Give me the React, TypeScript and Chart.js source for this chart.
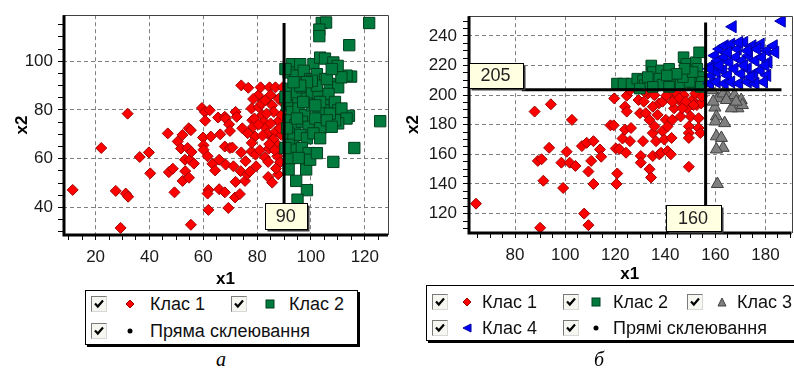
import React, { useEffect, useRef } from 'react';
import { Chart, registerables } from 'chart.js';

Chart.register(...registerables);

type Pt = [number, number];

const FONT = '"Liberation Sans", Arial, Helvetica, sans-serif';

// ---------------- Panel а ----------------
const A_X_RANGE = [7.9, 128.6];
const A_Y_RANGE = [28.7, 118.9];
const A_CLASS1: Pt[] = [
  [11.5, 47.2], [22.1, 64.4], [31.9, 78.5], [27.5, 46.8], [31.2, 45.7], [32.1, 44.4], [29.3, 31.6],
  [36.4, 60.7], [39.8, 62.6], [40.3, 54.0], [46.8, 70.4], [47.2, 54.5], [48.7, 55.9], [49.3, 46.2],
  [50.5, 67.1], [52.3, 69.8], [51.7, 64.2], [53.2, 59.6], [53.3, 54.9], [52.3, 50.9], [54.6, 72.5],
  [55.4, 71.7], [54.2, 64.4], [55.0, 59.6], [54.7, 52.2], [55.6, 62.8], [56.5, 58.0], [55.4, 32.9],
  [59.5, 80.8], [60.6, 79.2], [62.4, 79.9], [60.7, 75.6], [59.9, 68.7], [60.1, 65.5], [60.1, 63.7],
  [61.6, 61.0], [62.8, 69.1], [63.4, 57.9], [64.4, 55.2], [61.9, 47.2], [61.6, 45.7], [61.9, 39.0],
  [65.5, 76.9], [66.3, 70.0], [65.9, 59.6], [65.9, 47.5], [68.0, 77.2], [68.3, 76.5], [69.6, 74.1],
  [69.9, 71.4], [68.0, 65.0], [68.3, 57.6], [69.9, 64.4], [68.0, 46.2], [69.3, 39.8], [70.8, 64.6],
  [71.2, 56.9], [72.0, 79.2], [72.4, 77.2], [72.0, 50.5], [73.9, 54.9], [74.1, 90.1], [74.5, 72.5],
  [74.1, 62.6], [71.8, 44.1], [73.6, 45.5], [75.5, 50.9], [76.3, 53.6], [75.7, 59.0], [77.3, 54.7],
  [76.7, 89.1], [77.9, 80.6], [78.2, 75.8], [78.5, 73.1], [79.2, 69.1], [77.9, 63.0], [79.4, 61.7],
  [79.6, 56.9], [80.4, 86.0], [81.3, 89.3], [80.6, 81.2], [81.6, 82.6], [81.9, 77.9], [82.5, 75.2],
  [83.1, 72.7], [83.8, 70.4], [82.9, 60.6], [84.3, 64.1], [84.1, 58.7], [84.1, 52.5], [85.6, 50.2],
  [84.6, 89.3], [85.0, 86.2], [85.6, 81.9], [86.2, 79.2], [86.8, 89.3], [86.8, 71.1], [87.0, 66.4],
  [87.5, 61.0], [87.8, 53.6], [87.8, 75.4], [88.7, 63.7], [89.0, 69.8], [89.3, 83.3], [89.5, 89.3],
  [89.0, 77.9], [88.0, 84.6], [88.4, 72.5], [79.0, 76.5], [80.5, 74.0], [82.0, 69.5], [83.5, 78.5],
  [85.0, 74.5], [86.0, 68.0], [84.5, 66.0], [81.0, 63.5], [78.0, 66.5], [76.5, 70.5], [86.5, 63.5],
  [88.5, 58.5], [87.0, 56.0], [83.0, 84.0], [78.5, 84.5],
];
const A_CLASS2: Pt[] = [
  [104.0, 115.7], [105.6, 115.9], [103.1, 113.0], [103.1, 110.3], [121.6, 115.7], [114.2, 106.6],
  [125.7, 75.4], [116.1, 64.4], [108.3, 58.7], [98.2, 55.6], [98.5, 47.1], [94.5, 50.9], [95.0, 43.2],
  [114.1, 77.6], [114.9, 93.7], [113.2, 94.1], [92.9, 98.8], [96.0, 98.8], [100.9, 98.8], [103.4, 101.5],
  [105.2, 101.1], [108.3, 99.5], [109.9, 98.1], [91.7, 95.4], [94.2, 94.1], [97.3, 96.1], [99.7, 92.7],
  [102.2, 94.7], [105.2, 92.7], [107.0, 90.7], [110.1, 89.3], [111.3, 93.4], [91.7, 88.7], [92.9, 84.6],
  [94.8, 87.3], [96.6, 89.3], [98.5, 84.6], [100.3, 87.3], [102.8, 86.0], [104.6, 83.3], [106.5, 86.6],
  [108.9, 83.3], [110.1, 79.9], [111.3, 80.6], [113.2, 76.5], [110.1, 74.5], [108.9, 75.8], [91.1, 81.9],
  [92.9, 79.2], [95.4, 80.6], [97.8, 77.9], [100.3, 81.9], [102.8, 79.2], [104.6, 79.9], [107.0, 78.5],
  [91.7, 75.8], [94.2, 73.8], [96.6, 75.2], [99.1, 73.1], [101.6, 76.5], [103.4, 72.5], [91.7, 70.4],
  [93.5, 68.4], [96.0, 69.8], [98.5, 68.4], [100.9, 70.4], [103.4, 68.4], [91.7, 65.7], [94.2, 63.7],
  [96.6, 64.4], [99.1, 62.3], [92.3, 60.3], [95.4, 60.3], [99.7, 59.6], [102.2, 62.3], [91.7, 55.6],
  [90.5, 64.4], [91.1, 72.5], [90.5, 85.3], [90.5, 96.8], [102.2, 90.0], [100.3, 92.0], [98.5, 91.4],
  [96.0, 90.0], [93.5, 91.4], [103.4, 83.3], [101.6, 81.9], [105.9, 75.8], [107.7, 73.1], [97.1, 83.3],
  [94.8, 76.5], [105.9, 92.7], [107.7, 96.8],
];
const A_SPLIT: Pt[] = [[90, 41.5], [90, 115.7]];
const A_TAG_TEXT = ['90'];
const A_TAG_AT: Pt[] = [[90.6, 36.4]];

// ---------------- Panel б ----------------
const B_X_RANGE = [61.2, 190.4];
const B_Y_RANGE = [106.9, 253.3];
const B_CLASS1: Pt[] = [
  [64.4, 126.7], [87.8, 188.9], [94.3, 193.8], [102.7, 183.3], [89.1, 155.6], [90.6, 156.7], [93.6, 164.4],
  [91.3, 142.2], [90.0, 110.4], [98.5, 154.4], [99.2, 137.3], [100.6, 161.8], [101.8, 154.4], [104.1, 152.2],
  [106.7, 165.6], [108.6, 167.8], [109.3, 148.4], [110.4, 155.6], [111.3, 168.9], [111.3, 140.0], [107.6, 120.0],
  [109.3, 112.2], [113.9, 163.3], [114.4, 158.4], [118.1, 179.6], [119.4, 179.6], [119.6, 197.8], [120.2, 164.0],
  [120.8, 147.1], [120.5, 140.0], [121.6, 163.6], [122.9, 170.7], [123.9, 176.7], [124.3, 161.1], [124.6, 199.6],
  [123.9, 192.2], [124.6, 188.9], [125.9, 203.3], [126.3, 177.8], [125.9, 168.9], [129.3, 196.7], [129.9, 187.8],
  [130.2, 158.9], [130.2, 154.4], [131.1, 168.9], [131.4, 195.6], [132.2, 187.8], [133.1, 201.1], [133.7, 183.3],
  [133.7, 150.0], [134.3, 144.4], [135.0, 174.4], [135.7, 178.9], [135.0, 158.9], [136.3, 168.9], [136.9, 186.7],
  [137.4, 194.4], [137.6, 160.0], [138.3, 161.1], [138.9, 195.6], [138.9, 175.6], [139.6, 170.0], [140.2, 183.3],
  [140.9, 178.9], [141.3, 201.1], [140.9, 162.2], [142.2, 160.0], [142.5, 171.1], [142.8, 183.3], [143.5, 191.1],
  [144.1, 197.8], [144.8, 201.1], [146.1, 185.6], [146.8, 194.4], [147.4, 200.0], [148.7, 191.1], [149.4, 178.9],
  [149.4, 174.4], [149.4, 171.1], [149.4, 151.6], [150.1, 185.6], [150.7, 196.7], [152.0, 201.1], [152.6, 193.3],
  [153.3, 184.4], [153.3, 177.8], [154.0, 174.4], [154.3, 194.4], [154.6, 198.9], [145.5, 197.8], [148.1, 195.6],
  [151.3, 193.3], [146.8, 191.1], [142.8, 195.6], [140.4, 199.6], [135.6, 200.0], [131.7, 202.2], [135.0, 192.2],
];
const B_CLASS2: Pt[] = [
  [120.7, 207.8], [123.3, 207.8], [126.5, 207.8], [128.8, 211.1], [131.1, 210.0], [131.8, 206.7], [134.4, 220.0],
  [135.0, 215.6], [136.1, 208.9], [138.3, 216.7], [140.2, 208.9], [141.5, 217.8], [143.5, 211.1], [144.1, 206.7],
  [146.1, 207.8], [147.3, 225.6], [148.4, 221.1], [149.4, 216.7], [150.3, 211.1], [150.9, 206.7], [152.2, 222.2],
  [152.8, 217.8], [153.5, 228.9], [153.8, 212.2], [154.6, 208.9], [154.2, 205.6], [149.7, 208.9], [147.0, 212.2],
  [137.6, 211.1], [138.9, 207.1], [133.0, 212.2], [129.8, 204.4], [135.0, 205.6], [141.5, 205.6], [150.9, 215.6],
  [147.7, 217.8], [144.5, 214.4], [140.6, 213.3],
];
const B_CLASS3: Pt[] = [
  [159.8, 191.6], [161.1, 197.8], [163.1, 201.1], [165.0, 198.9], [167.6, 200.0], [170.3, 196.7], [169.0, 191.1],
  [166.4, 191.1], [170.8, 193.3], [159.1, 195.6], [160.4, 185.6], [160.0, 182.2], [163.7, 181.1], [160.4, 172.2],
  [162.4, 171.1], [163.1, 164.4], [160.4, 163.3], [160.8, 140.0], [158.5, 203.3], [164.4, 196.7], [168.3, 195.6],
];
const B_CLASS4: Pt[] = [
  [166.9, 246.2], [186.5, 250.0], [159.8, 226.7], [161.7, 231.1], [163.7, 233.3], [166.3, 234.4], [168.9, 231.1],
  [171.5, 235.6], [174.8, 233.3], [178.1, 234.4], [180.7, 230.0], [183.3, 233.3], [183.9, 228.9], [158.5, 220.0],
  [161.1, 223.3], [163.7, 225.6], [165.6, 222.2], [168.2, 225.6], [170.8, 223.3], [173.4, 226.7], [176.0, 223.3],
  [178.6, 225.6], [181.2, 222.2], [158.5, 213.3], [160.5, 215.6], [163.1, 216.7], [165.0, 213.3], [167.6, 217.8],
  [170.3, 214.4], [172.9, 217.8], [175.5, 214.4], [178.1, 216.7], [180.7, 213.3], [179.4, 208.9], [157.8, 207.8],
  [160.5, 208.9], [163.7, 207.8], [166.3, 208.9], [169.5, 207.8], [172.9, 208.9], [176.0, 207.8], [157.8, 217.8],
  [165.0, 228.9], [169.5, 235.6], [172.9, 230.0], [176.8, 231.1], [180.0, 220.0], [161.7, 220.0], [171.5, 220.0],
  [174.1, 212.2],
];
const B_SPLIT_V: Pt[] = [[156.1, 125.5], [156.1, 249.0]];
const B_SPLIT_H: Pt[] = [[82.7, 203.6], [186.4, 203.6]];
const B_TAG_TEXT = ['160', '205'];
const B_TAG_AT: Pt[] = [[151.1, 116.9], [72.2, 213.5]];

const TICK_STEP = 5;
const LABEL_STEP = 20;

// ---------------- helpers ----------------
const toXY = (arr: Pt[]) => arr.map(([x, y]) => ({ x, y }));

function overlay(tags: { text: string; at: Pt; w: number; h: number }[]) {
  return {
    id: 'overlay',
    afterDraw(chart: any) {
      const { ctx, chartArea: a, scales } = chart;
      ctx.save();
      ctx.setLineDash([]);
      ctx.strokeStyle = '#404040';
      ctx.lineWidth = 1;
      ctx.beginPath();
      ctx.moveTo(a.left, Math.round(a.top) + 0.5);
      ctx.lineTo(Math.round(a.right) + 0.5, Math.round(a.top) + 0.5);
      ctx.lineTo(Math.round(a.right) + 0.5, a.bottom);
      ctx.stroke();
      ctx.strokeStyle = '#000';
      ctx.lineWidth = 3;
      ctx.beginPath();
      ctx.moveTo(a.left + 1, a.top);
      ctx.lineTo(a.left + 1, a.bottom);
      ctx.lineTo(a.right, a.bottom);
      ctx.stroke();
      for (const t of tags) {
        const cx = scales.x.getPixelForValue(t.at[0]);
        const cy = scales.y.getPixelForValue(t.at[1]);
        const x0 = Math.round(cx - t.w / 2) + 0.5;
        const y0 = Math.round(cy - t.h / 2) + 0.5;
        ctx.fillStyle = '#3a3a3a';
        ctx.fillRect(x0 + 2, y0 + 2, t.w, t.h);
        ctx.fillStyle = '#ffffe1';
        ctx.fillRect(x0, y0, t.w, t.h);
        ctx.strokeStyle = '#000';
        ctx.lineWidth = 1;
        ctx.strokeRect(x0, y0, t.w, t.h);
        ctx.fillStyle = '#222';
        ctx.font = `18px ${FONT}`;
        ctx.textAlign = 'center';
        ctx.textBaseline = 'middle';
        ctx.fillText(t.text, cx, cy + 1);
      }
      ctx.restore();
    },
  };
}

function axis(range: number[], fitSize: number, horizontal: boolean, title: string, titlePad: any, tickPad: number) {
  return {
    type: 'linear',
    min: range[0],
    max: range[1],
    afterFit: (s: any) => {
      if (horizontal) s.height = fitSize;
      else s.width = fitSize;
    },
    border: { display: false, dash: [4, 3] },
    grid: {
      color: (c: any) => (c.tick && c.tick.value % LABEL_STEP === 0 ? '#808080' : 'rgba(0,0,0,0)'),
      lineWidth: 1,
      tickColor: '#000',
      tickLength: 5,
      drawTicks: true,
    },
    ticks: {
      stepSize: TICK_STEP,
      autoSkip: false,
      includeBounds: false,
      maxRotation: 0,
      padding: tickPad,
      color: '#1a1a1a',
      font: { family: FONT, size: 17 },
      callback: (v: any) => (Number(v) % LABEL_STEP === 0 ? String(v) : ''),
    },
    title: {
      display: true,
      text: title,
      color: '#000',
      font: { family: FONT, size: 17, weight: 'bold' },
      padding: titlePad,
    },
  };
}

const pointSet = (data: Pt[], style: string, r: number, bg: string, border: string, order: number, rotation = 0) => ({
  data: toXY(data),
  pointStyle: style,
  pointRadius: r,
  pointRotation: rotation,
  backgroundColor: bg,
  borderColor: border,
  borderWidth: 1,
  showLine: false,
  order,
});

const lineSet = (data: Pt[]) => ({
  data: toXY(data),
  showLine: true,
  borderColor: '#000',
  borderWidth: 3,
  pointRadius: 0,
  order: 0,
});

const RED = ['#ff0000', '#a00000'];
const GREEN = ['#007a3d', '#00401f'];
const GRAY = ['#808080', '#404040'];
const BLUE = ['#0000ff', '#0000a0'];

// ---------------- legend bits ----------------
const CheckBox = ({ x, y }: { x: number; y: number }) => (
  <div
    style={{
      position: 'absolute', left: x, top: y, width: 16, height: 16, boxSizing: 'border-box',
      borderTop: '1px solid #7a7a7a', borderLeft: '1px solid #7a7a7a',
      borderRight: '1px solid #d8d8d8', borderBottom: '1px solid #d8d8d8', background: '#f7f7f2',
    }}
  >
    <svg width="14" height="14" style={{ position: 'absolute', left: 0, top: 0 }}>
      <path d="M3 6.5 L5.8 9.5 L11 3.5" stroke="#000" strokeWidth="2.2" fill="none" />
    </svg>
  </div>
);

const Marker = ({ kind, x, y }: { kind: string; x: number; y: number }) => {
  let shape: any = null;
  if (kind === 'diamond') shape = <polygon points="5,1 9,5 5,9 1,5" fill={RED[0]} stroke={RED[1]} />;
  if (kind === 'square') shape = <rect x="1" y="1" width="8" height="8" fill={GREEN[0]} stroke={GREEN[1]} />;
  if (kind === 'dot') shape = <circle cx="5" cy="5" r="2.5" fill="#000" />;
  if (kind === 'triUp') shape = <polygon points="5,1 9,9 1,9" fill={GRAY[0]} stroke={GRAY[1]} />;
  if (kind === 'triLeft') shape = <polygon points="1,5 9,1 9,9" fill={BLUE[0]} stroke={BLUE[1]} />;
  return (
    <svg width="10" height="10" style={{ position: 'absolute', left: x - 5, top: y - 5 }}>
      {shape}
    </svg>
  );
};

const Entry = ({ x, y, dm, dt, kind, label }: { x: number; y: number; dm: number; dt: number; kind: string; label: string }) => (
  <>
    <CheckBox x={x} y={y - 8} />
    <Marker kind={kind} x={x + dm} y={y} />
    <div
      style={{
        position: 'absolute', left: x + dt, top: y - 11, height: 22, lineHeight: '22px',
        fontFamily: FONT, fontSize: 18, color: '#111', whiteSpace: 'nowrap',
      }}
    >
      {label}
    </div>
  </>
);

export default function App() {
  const refA = useRef<HTMLCanvasElement>(null);
  const refB = useRef<HTMLCanvasElement>(null);

  useEffect(() => {
    const common = {
      animation: false,
      responsive: false,
      maintainAspectRatio: false,
      devicePixelRatio: 1,
      events: [],
      plugins: { legend: { display: false }, tooltip: { enabled: false } },
    };

    const chartA = new Chart(refA.current as HTMLCanvasElement, {
      type: 'scatter',
      data: {
        datasets: [
          lineSet(A_SPLIT),
          pointSet(A_CLASS2, 'rect', 8, GREEN[0], GREEN[1], 1),
          pointSet(A_CLASS1, 'rectRot', 5.5, RED[0], RED[1], 2),
        ] as any,
      },
      options: {
        ...common,
        layout: { padding: { top: 12, right: 7, left: 0, bottom: 0 } },
        scales: {
          x: axis(A_X_RANGE, 55, true, 'x1', { top: 0, bottom: 0 }, 7),
          y: axis(A_Y_RANGE, 63, false, 'x2', { top: 12, bottom: 0 }, 5),
        },
      } as any,
      plugins: [overlay(A_TAG_TEXT.map((t, i) => ({ text: t, at: A_TAG_AT[i], w: 42, h: 26 })))],
    });

    const chartB = new Chart(refB.current as HTMLCanvasElement, {
      type: 'scatter',
      data: {
        datasets: [
          lineSet(B_SPLIT_V),
          lineSet(B_SPLIT_H),
          pointSet(B_CLASS4, 'triangle', 7, BLUE[0], BLUE[1], 1, -90),
          pointSet(B_CLASS3, 'triangle', 7, GRAY[0], GRAY[1], 1),
          pointSet(B_CLASS2, 'rect', 7.5, GREEN[0], GREEN[1], 1),
          pointSet(B_CLASS1, 'rectRot', 5.5, RED[0], RED[1], 2),
        ] as any,
      },
      options: {
        ...common,
        layout: { padding: { top: 13, right: 2, left: 0, bottom: 0 } },
        scales: {
          x: axis(B_X_RANGE, 57, true, 'x1', { top: 0, bottom: 5 }, 7),
          y: axis(B_Y_RANGE, 68, false, 'x2', { top: 3, bottom: 0 }, 6),
        },
      } as any,
      plugins: [overlay(B_TAG_TEXT.map((t, i) => ({ text: t, at: B_TAG_AT[i], w: i === 0 ? 55 : 54, h: i === 0 ? 26 : 25 })))],
    });

    return () => {
      chartA.destroy();
      chartB.destroy();
    };
  }, []);

  return (
    <div style={{ position: 'absolute', left: 0, top: 0, width: 794, height: 370, overflow: 'hidden', background: '#fff' }}>
      <canvas ref={refA} width={397} height={290} style={{ position: 'absolute', left: 0, top: 0 }} />
      <canvas ref={refB} width={400} height={290} style={{ position: 'absolute', left: 400, top: 0 }} />

      <div style={{ position: 'absolute', left: 85, top: 290, width: 273, height: 55, boxSizing: 'border-box', border: '1px solid #000', boxShadow: '2px 2px 0 #000', background: '#fff' }}>
        <Entry x={5} y={13} dm={39} dt={59} kind="diamond" label="Клас 1" />
        <Entry x={145} y={13} dm={39} dt={58} kind="square" label="Клас 2" />
        <Entry x={5} y={40} dm={39} dt={59} kind="dot" label="Пряма склеювання" />
      </div>

      <div style={{ position: 'absolute', left: 426, top: 285, width: 400, height: 56, boxSizing: 'border-box', border: '1px solid #000', boxShadow: '2px 2px 0 #000', background: '#fff' }}>
        <Entry x={5} y={16} dm={35} dt={50} kind="diamond" label="Клас 1" />
        <Entry x={136} y={16} dm={33} dt={50} kind="square" label="Клас 2" />
        <Entry x={260} y={16} dm={35} dt={50} kind="triUp" label="Клас 3" />
        <Entry x={5} y={42} dm={35} dt={50} kind="triLeft" label="Клас 4" />
        <Entry x={136} y={42} dm={33} dt={50} kind="dot" label="Прямі склеювання" />
      </div>

      <div style={{ position: 'absolute', left: 206, top: 348, width: 30, textAlign: 'center', fontFamily: '"Liberation Serif", "Times New Roman", serif', fontStyle: 'italic', fontSize: 20, lineHeight: '22px' }}>а</div>
      <div style={{ position: 'absolute', left: 584, top: 348, width: 30, textAlign: 'center', fontFamily: '"Liberation Serif", "Times New Roman", serif', fontStyle: 'italic', fontSize: 20, lineHeight: '22px' }}>б</div>
    </div>
  );
}
